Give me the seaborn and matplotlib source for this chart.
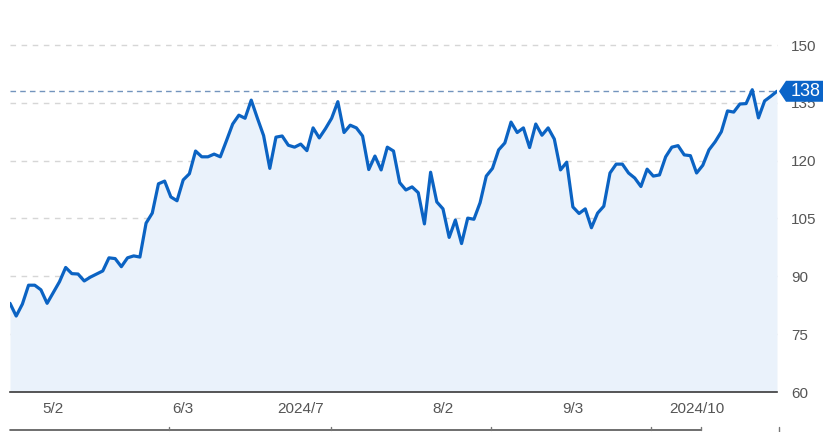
import matplotlib
matplotlib.use("Agg")
import matplotlib.pyplot as plt
from matplotlib.patches import Polygon
from matplotlib.lines import Line2D
import matplotlib.transforms as mtransforms
import numpy as np
import pandas as pd
import seaborn as sns

# ---- data ----
values = [
    83.0, 79.7, 82.8, 87.7, 87.7, 86.5, 83.0, 85.8, 88.6, 92.3,
    90.7, 90.6, 88.8, 89.8, 90.6, 91.4, 94.8, 94.6, 92.5, 94.8,
    95.3, 95.0, 103.8, 106.4, 114.0, 114.7, 110.6, 109.6, 115.0, 116.6,
    122.5, 121.0, 121.0, 121.7, 121.0, 125.2, 129.5, 131.8, 131.0, 135.7,
    131.0, 126.5, 118.0, 126.1, 126.4, 124.0, 123.5, 124.3, 122.6, 128.5,
    125.9, 128.3, 131.0, 135.3, 127.3, 129.2, 128.5, 126.4, 117.7, 121.2,
    117.6, 123.5, 122.5, 114.3, 112.4, 113.2, 111.7, 103.6, 117.0, 109.3,
    107.5, 100.1, 104.6, 98.5, 105.1, 104.8, 109.1, 116.0, 118.0, 122.8,
    124.6, 130.0, 127.3, 128.5, 123.4, 129.5, 126.6, 128.5, 125.6, 117.6,
    119.6, 108.0, 106.3, 107.5, 102.6, 106.4, 108.2, 116.8, 119.1, 119.1,
    116.8, 115.5, 113.3, 117.8, 116.0, 116.3, 121.0, 123.5, 123.9, 121.5,
    121.3, 116.8, 118.8, 122.8, 124.9, 127.5, 132.9, 132.6, 134.7, 134.8,
    138.4, 131.1, 135.5, 136.7, 138.0,
]
tick_labels = ["5/2", "6/3", "2024/7", "8/2", "9/3", "2024/10"]
tick_index = [7, 28, 47, 70, 91, 111]   # trading-day index of each label
y_ticks = [60, 75, 90, 105, 120, 135, 150]

df = pd.DataFrame({"day": np.arange(len(values)), "price": values})

# ---- style ----
sns.set_theme(style="white")
plt.rcParams["font.family"] = ["Liberation Sans", "DejaVu Sans"]

LINE = "#0b63c3"
FILL = "#eaf2fb"
TXT = "#555555"

W, H = 830, 432
fig = plt.figure(figsize=(W / 100, H / 100), dpi=100)
ax = fig.add_axes([10 / W, 1 - 392 / H, (777 - 10) / W, (392 - 45) / H])

ax.fill_between(df["day"], df["price"], y_ticks[0], color=FILL, lw=0, zorder=1)
sns.lineplot(data=df, x="day", y="price", ax=ax, color=LINE, lw=2.3, zorder=3)

ax.set_xlim(0, len(values) - 1)
ax.set_ylim(y_ticks[0], y_ticks[-1])

# grid
for v in y_ticks[1:]:
    ax.axhline(v, color="#d6d6d6", lw=1, ls=(0, (4, 4)), zorder=0.5, clip_on=False)

# last value line
last = values[-1]
ax.axhline(last, color="#7394bd", lw=1, ls=(0, (4, 3)), zorder=2)

# axes
for s in ["top", "left", "right"]:
    ax.spines[s].set_visible(False)
ax.spines["bottom"].set_color("#3a3a3a")
ax.spines["bottom"].set_linewidth(1.2)

ax.yaxis.tick_right()
ax.set_yticks(y_ticks)
ax.set_yticklabels([str(v) for v in y_ticks])
ax.tick_params(axis="y", length=0, pad=10, labelsize=11, labelcolor=TXT)
ax.set_xticks(tick_index)
ax.set_xticklabels(tick_labels)
ax.tick_params(axis="x", length=0, pad=7, labelsize=11, labelcolor=TXT)
ax.set_xlabel("")
ax.set_ylabel("")

# last value tag
trans = mtransforms.blended_transform_factory(ax.transAxes, ax.transData)
px = 1.0 / ((777 - 10))           # one pixel in axes fraction (x)
py = 1.0 / 3.856                   # one pixel in data units (y)
x0 = 1 + 2 * px
x1 = 1 + 9 * px
x2 = 1 + 46 * px
hh = 10.5 * py
tag = Polygon([(x0, last), (x1, last + hh), (x2, last + hh), (x2, last - hh), (x1, last - hh)],
              closed=True, transform=trans, facecolor="#0a64c8", edgecolor="none",
              clip_on=False, zorder=6)
ax.add_patch(tag)
ax.text((x1 + x2) / 2 + px, last, f"{last:.0f}", transform=trans, color="white",
        fontsize=13, ha="center", va="center", zorder=7, clip_on=False)

# partial element at the very bottom
yb = 1 - 429.5 / H
fig.add_artist(Line2D([10 / W, 701 / W], [yb, yb], color="#555555", lw=1.2))
for xs in [169, 331, 491, 651, 701]:
    fig.add_artist(Line2D([xs / W, xs / W], [yb, yb + 3 / H], color="#777777", lw=1))
fig.add_artist(Line2D([779 / W, 779 / W], [0, yb + 3 / H], color="#777777", lw=1))

fig.savefig("out.png", dpi=100)
